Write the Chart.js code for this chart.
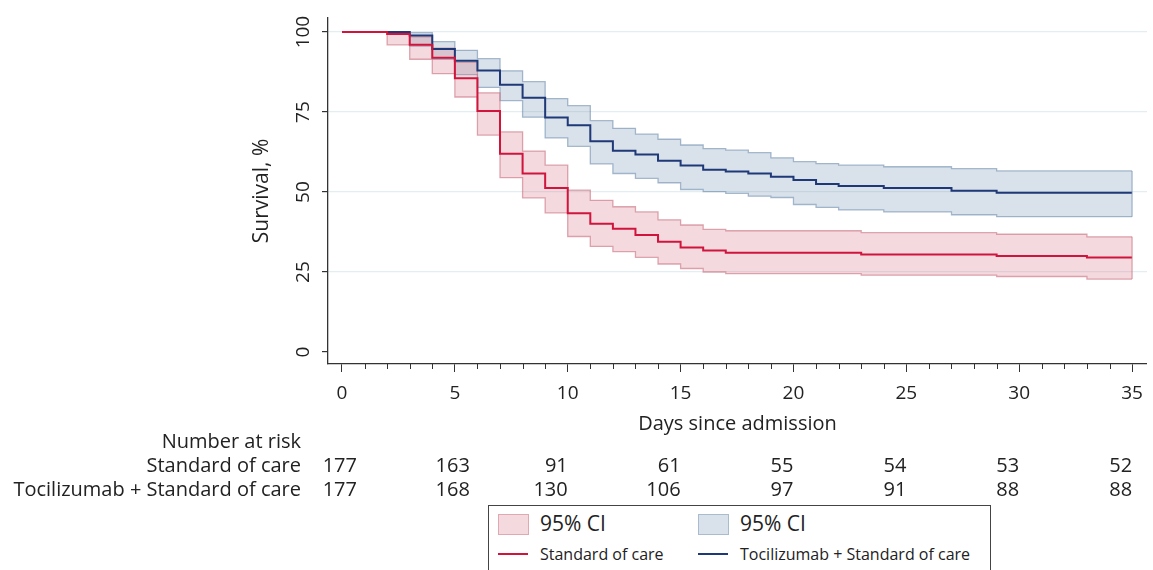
<!DOCTYPE html>
<html>
<head>
<meta charset="utf-8">
<script src="https://cdn.jsdelivr.net/npm/chart.js@4.4.1/dist/chart.umd.min.js"></script>
<style>
  html, body { margin: 0; padding: 0; background: #fff; }
  #wrap { position: relative; width: 1153px; height: 570px; overflow: hidden; font-family: "Open Sans", sans-serif; color: #222; }
  #chart { position: absolute; left: 0; top: 0; }
  .rowlab { position: absolute; right: 852px; height: 24px; line-height: 24px; font-size: 20px; text-align: right; white-space: nowrap; }
  .num { position: absolute; height: 24px; line-height: 24px; font-size: 20px; white-space: nowrap; }
  #legend { position: absolute; left: 488px; top: 505px; width: 503px; height: 90px; border: 1.5px solid #444; box-sizing: border-box; }
  #legend .sw { position: absolute; width: 29px; height: 19px; }
  #legend .ln { position: absolute; width: 30px; height: 2px; }
  #legend .txt { position: absolute; white-space: nowrap; }
</style>
</head>
<body>
<div id="wrap">
  <canvas id="chart" width="1153" height="440"></canvas>
  <div id="risk"></div>
  <div id="legend">
    <div class="sw" style="left:9px;top:8px;background:rgba(215,120,135,0.28);border:1px solid rgba(200,110,125,0.45);"></div>
    <div class="txt" style="left:51px;top:4px;font-size:21px;line-height:26px;">95% CI</div>
    <div class="sw" style="left:209px;top:8px;background:rgba(120,150,180,0.28);border:1px solid rgba(110,140,175,0.45);"></div>
    <div class="txt" style="left:251px;top:4px;font-size:21px;line-height:26px;">95% CI</div>
    <div class="ln" style="left:9px;top:47px;background:#d0143c;"></div>
    <div class="txt" style="left:51px;top:37px;font-size:16px;line-height:22px;">Standard of care</div>
    <div class="ln" style="left:209px;top:47px;background:#1f3877;"></div>
    <div class="txt" style="left:251px;top:37px;font-size:16px;line-height:22px;">Tocilizumab + Standard of care</div>
  </div>
</div>
<script>
// Standard of care: step times (days) and values (%)
const socDays  = [0, 2, 3, 4, 5, 6, 7, 8, 9, 10, 11, 12, 13, 14, 15, 16, 17, 23, 29, 33, 35];
const socSurv  = [100, 99.4, 96.0, 92.0, 85.6, 75.3, 62.0, 55.8, 51.3, 43.4, 40.1, 38.5, 36.6, 34.5, 32.7, 31.7, 31.0, 30.5, 30.0, 29.5, 29.5];
const socUpper = [100, 100, 98.5, 95.0, 90.5, 81.0, 68.8, 62.8, 58.4, 50.6, 47.4, 45.4, 43.8, 41.3, 39.7, 38.3, 37.9, 37.3, 36.8, 36.0, 36.0];
const socLower = [100, 96.0, 91.5, 87.0, 79.7, 67.8, 54.5, 48.2, 43.5, 36.1, 33.0, 31.4, 29.6, 27.5, 26.1, 25.0, 24.5, 24.0, 23.6, 22.8, 22.8];

// Tocilizumab + standard of care
const tczDays  = [0, 3, 4, 5, 6, 7, 8, 9, 10, 11, 12, 13, 14, 15, 16, 17, 18, 19, 20, 21, 22, 24, 27, 29, 35];
const tczSurv  = [100, 98.9, 94.7, 91.0, 88.0, 83.5, 79.5, 73.3, 70.9, 65.9, 62.9, 61.7, 59.8, 58.3, 57.0, 56.4, 55.8, 54.8, 53.75, 52.5, 51.9, 51.3, 50.4, 49.8, 49.8];
const tczUpper = [100, 99.8, 97.0, 94.3, 91.7, 87.9, 84.5, 79.2, 77.0, 72.3, 69.9, 68.1, 66.5, 64.7, 63.6, 63.1, 62.3, 60.7, 59.5, 58.9, 58.4, 57.9, 57.3, 56.6, 56.6];
const tczLower = [100, 95.6, 91.5, 86.7, 82.7, 78.6, 73.4, 66.9, 64.3, 58.8, 55.8, 54.3, 52.9, 50.8, 50.1, 49.6, 48.7, 48.3, 46.1, 45.2, 44.4, 43.8, 42.9, 42.3, 42.3];

// Number at risk
const riskDays = [0, 5, 10, 15, 20, 25, 30, 35];
const riskSoc  = [177, 163, 91, 61, 55, 54, 53, 52];
const riskTcz  = [177, 168, 130, 106, 97, 91, 88, 88];

const toPts = (xs, ys) => xs.map((x, i) => ({ x, y: ys[i] }));

const RED = '#d0143c', BLUE = '#1f3877';
const redFill = 'rgba(215,120,135,0.28)', redEdge = 'rgba(200,110,125,0.6)';
const blueFill = 'rgba(120,150,180,0.28)', blueEdge = 'rgba(110,140,175,0.6)';

// short minor ticks on the x axis (one per day) and the closing right edge of each CI band
const extras = {
    id: 'extras',
    afterDatasetsDraw(chart) {
        const { ctx, scales: { x, y } } = chart;
        ctx.save();
        ctx.lineWidth = 1.3;
        [[socDays, socUpper, socLower, redEdge], [tczDays, tczUpper, tczLower, blueEdge]].forEach(([d, up, lo, col]) => {
            const n = d.length - 1;
            const px = x.getPixelForValue(d[n]);
            ctx.strokeStyle = col;
            ctx.beginPath();
            ctx.moveTo(px, y.getPixelForValue(up[n]));
            ctx.lineTo(px, y.getPixelForValue(lo[n]));
            ctx.stroke();
        });
        ctx.restore();
    },
    afterDraw(chart) {
        const { ctx, scales: { x } } = chart;
        ctx.save();
        ctx.strokeStyle = '#333';
        ctx.lineWidth = 1;
        for (let d = 0; d <= 35; d++) {
            if (d % 5 === 0) continue;
            const px = Math.round(x.getPixelForValue(d)) + 0.5;
            ctx.beginPath();
            ctx.moveTo(px, x.top);
            ctx.lineTo(px, x.top + 5);
            ctx.stroke();
        }
        ctx.restore();
    }
};

const font = 'Open Sans';

const chart = new Chart(document.getElementById('chart'), {
    type: 'line',
    data: {
        datasets: [
            { data: toPts(socDays, socSurv), borderColor: RED, borderWidth: 2, stepped: true, pointRadius: 0, fill: false, order: 0 },
            { data: toPts(tczDays, tczSurv), borderColor: BLUE, borderWidth: 2, stepped: true, pointRadius: 0, fill: false, order: 0 },
            { data: toPts(socDays, socUpper), borderColor: redEdge, backgroundColor: redFill, borderWidth: 1.3, stepped: true, pointRadius: 0, fill: '+1', order: 1 },
            { data: toPts(socDays, socLower), borderColor: redEdge, borderWidth: 1.3, stepped: true, pointRadius: 0, fill: false, order: 1 },
            { data: toPts(tczDays, tczUpper), borderColor: blueEdge, backgroundColor: blueFill, borderWidth: 1.3, stepped: true, pointRadius: 0, fill: '+1', order: 2 },
            { data: toPts(tczDays, tczLower), borderColor: blueEdge, borderWidth: 1.3, stepped: true, pointRadius: 0, fill: false, order: 2 }
        ]
    },
    options: {
        responsive: false,
        animation: false,
        events: [],
        layout: { padding: { left: 247, top: 18, right: 3, bottom: 0 } },
        plugins: { legend: { display: false }, tooltip: { enabled: false } },
        scales: {
            x: {
                type: 'linear',
                min: -0.62,
                max: 35.66,
                afterFit: s => { s.height = 76; },
                border: { color: '#333', width: 1.3 },
                grid: { drawOnChartArea: false, tickLength: 8, tickColor: '#333' },
                ticks: { stepSize: 5, includeBounds: false, padding: 10, color: '#222', font: { family: font, size: 19 }, maxRotation: 0 },
                title: { display: true, text: 'Days since admission', color: '#222', font: { family: font, size: 20 }, padding: { top: 0, bottom: 4 } }
            },
            y: {
                min: -3.75,
                max: 104.4,
                afterFit: s => { s.width = 81; },
                border: { color: '#333', width: 1.3 },
                grid: {
                    color: c => (c.tick && c.tick.value === 0 ? 'rgba(0,0,0,0)' : '#e2eef1'),
                    lineWidth: 1.2,
                    tickLength: 6,
                    tickColor: '#333'
                },
                ticks: { stepSize: 25, includeBounds: false, minRotation: 90, maxRotation: 90, crossAlign: 'center', padding: 2, color: '#222', font: { family: font, size: 19 } },
                title: { display: true, text: 'Survival, %', color: '#222', font: { family: font, size: 21 }, padding: { top: 2, bottom: 0 } }
            }
        }
    },
    plugins: [extras]
});

// number-at-risk table under the x axis
const risk = document.getElementById('risk');
const rowLabels = [['Number at risk', 441], ['Standard of care', 465], ['Tocilizumab + Standard of care', 489]];
rowLabels.forEach(([t, cy]) => {
    const el = document.createElement('div');
    el.className = 'rowlab';
    el.style.top = (cy - 12) + 'px';
    el.textContent = t;
    risk.appendChild(el);
});
[[riskSoc, 465], [riskTcz, 489]].forEach(([vals, cy]) => {
    riskDays.forEach((d, i) => {
        const el = document.createElement('div');
        el.className = 'num';
        el.style.top = (cy - 12) + 'px';
        const shift = d < 10 ? 15 : 0;
        el.style.right = (1153 - chart.scales.x.getPixelForValue(d) - shift) + 'px';
        el.textContent = vals[i];
        risk.appendChild(el);
    });
});
</script>
</body>
</html>
